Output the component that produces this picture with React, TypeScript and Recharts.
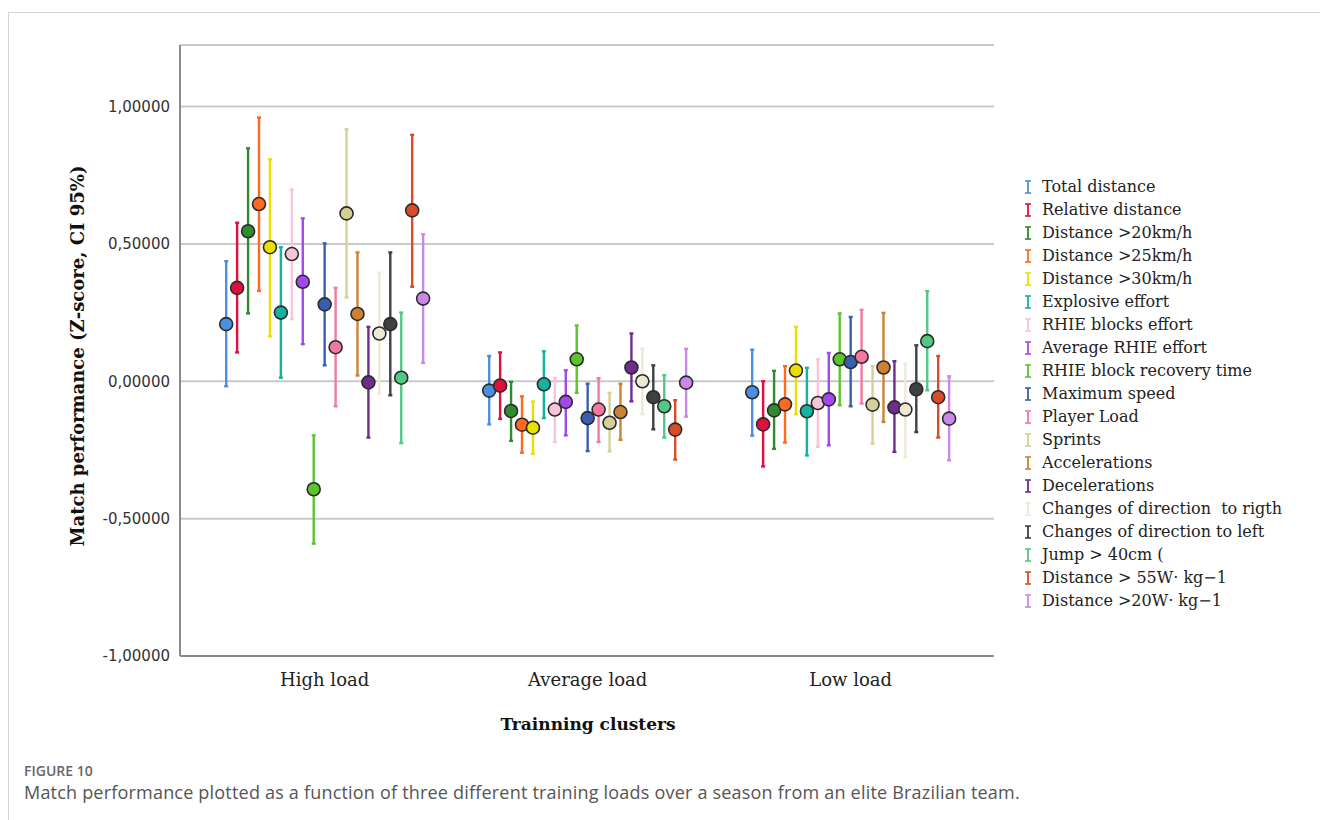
import { ScatterChart, Scatter, ErrorBar, XAxis, YAxis, CartesianGrid } from 'recharts'

const categories = ['High load', 'Average load', 'Low load']

const seriesNames = [
  'Total distance',
  'Relative distance',
  'Distance >20km/h',
  'Distance >25km/h',
  'Distance >30km/h',
  'Explosive effort',
  'RHIE blocks effort',
  'Average RHIE effort',
  'RHIE block recovery time',
  'Maximum speed',
  'Player Load',
  'Sprints',
  'Accelerations',
  'Decelerations',
  'Changes of direction  to rigth',
  'Changes of direction to left',
  'Jump > 40cm (',
  'Distance > 55W· kg−1',
  'Distance >20W· kg−1',
]

const seriesColors = [
  '#4a8fe0', '#e0103c', '#2e8b2e', '#ff6a1e', '#ece000', '#12b3a0', '#f9c4da',
  '#a347f0', '#5cc52c', '#3a5fb0', '#f27aa2', '#d6d096', '#cc8234', '#6e2c8e',
  '#efe9d4', '#404040', '#52c884', '#d94c2a', '#cc88e8',
]

// [High, Average, Low]
const meanValues = [
  [0.208, -0.034, -0.04],
  [0.34, -0.016, -0.157],
  [0.546, -0.108, -0.106],
  [0.645, -0.158, -0.084],
  [0.488, -0.169, 0.039],
  [0.25, -0.011, -0.109],
  [0.463, -0.103, -0.079],
  [0.362, -0.075, -0.066],
  [-0.393, 0.08, 0.08],
  [0.28, -0.134, 0.07],
  [0.124, -0.103, 0.089],
  [0.611, -0.151, -0.085],
  [0.245, -0.112, 0.05],
  [-0.004, 0.05, -0.095],
  [0.174, 0.0, -0.103],
  [0.208, -0.058, -0.029],
  [0.013, -0.091, 0.146],
  [0.622, -0.176, -0.058],
  [0.301, -0.005, -0.136],
]

const lowerValues = [
  [-0.018, -0.157, -0.198],
  [0.105, -0.137, -0.31],
  [0.247, -0.217, -0.246],
  [0.329, -0.26, -0.223],
  [0.164, -0.264, -0.12],
  [0.013, -0.134, -0.27],
  [0.226, -0.221, -0.239],
  [0.135, -0.197, -0.233],
  [-0.591, -0.042, -0.087],
  [0.058, -0.254, -0.091],
  [-0.091, -0.221, -0.081],
  [0.305, -0.255, -0.227],
  [0.021, -0.213, -0.148],
  [-0.205, -0.073, -0.257],
  [-0.045, -0.12, -0.276],
  [-0.051, -0.175, -0.185],
  [-0.225, -0.205, -0.033],
  [0.344, -0.285, -0.205],
  [0.067, -0.129, -0.288],
]

const upperValues = [
  [0.437, 0.092, 0.115],
  [0.577, 0.105, 0.0],
  [0.848, -0.002, 0.038],
  [0.96, -0.055, 0.055],
  [0.808, -0.074, 0.198],
  [0.488, 0.109, 0.049],
  [0.698, 0.012, 0.08],
  [0.593, 0.04, 0.103],
  [-0.197, 0.203, 0.247],
  [0.502, -0.009, 0.234],
  [0.34, 0.011, 0.26],
  [0.917, -0.042, 0.055],
  [0.469, -0.009, 0.249],
  [0.198, 0.174, 0.073],
  [0.395, 0.119, 0.064],
  [0.469, 0.058, 0.131],
  [0.25, 0.022, 0.328],
  [0.897, -0.069, 0.092],
  [0.535, 0.118, 0.018],
]

const yTicks = [-1, -0.5, 0, 0.5, 1]

const STEP = 0.0416
const MID = (seriesNames.length - 1) / 2

const serif = '"DejaVu Serif", serif'

function buildSeries(i: number) {
  return categories.map((_, g) => {
    const m = meanValues[i][g]
    return {
      x: g + (i - MID) * STEP,
      y: m,
      err: [m - lowerValues[i][g], upperValues[i][g] - m],
    }
  })
}

function LegendIcon({ color }: { color: string }) {
  return (
    <svg width={8} height={16} style={{ marginRight: 10, flex: 'none' }}>
      <line x1={1} y1={2} x2={7} y2={2} stroke={color} strokeWidth={1.6} />
      <line x1={4} y1={2} x2={4} y2={14} stroke={color} strokeWidth={1.8} />
      <line x1={1} y1={14} x2={7} y2={14} stroke={color} strokeWidth={1.6} />
    </svg>
  )
}

export default function App() {
  return (
    <div style={{ position: 'absolute', left: 0, top: 0, width: 1320, height: 820, background: '#fff', overflow: 'hidden' }}>
      <div style={{ position: 'absolute', left: 8, top: 12, width: 1400, height: 900, border: '1px solid #d4d4d4' }} />

      <div style={{ position: 'absolute', left: 0, top: 0 }}>
        <ScatterChart width={1000} height={760} margin={{ top: 45, right: 6, bottom: 64, left: 0 }}>
          <CartesianGrid vertical={false} stroke="#c9c9c9" strokeWidth={2} />
          <XAxis
            type="number"
            dataKey="x"
            domain={[-0.55, 2.545]}
            ticks={[0, 1, 2]}
            tickFormatter={(v: number) => categories[Math.round(v)]}
            tickLine={false}
            tickMargin={11}
            height={40}
            stroke="#8a8a8a"
            strokeWidth={2}
            tick={{ fill: '#222', fontSize: 18, fontFamily: serif }}
            allowDataOverflow
          />
          <YAxis
            type="number"
            dataKey="y"
            domain={[-1, 1.224]}
            ticks={yTicks}
            tickFormatter={(v: number) => v.toFixed(5).replace('.', ',')}
            tickLine={false}
            tickMargin={4}
            width={180}
            stroke="#8a8a8a"
            strokeWidth={2}
            tick={{ fill: '#333', fontSize: 15, fontFamily: '"DejaVu Sans", sans-serif' }}
            allowDataOverflow
          />
          {seriesNames.map((name, i) => (
            <Scatter
              key={name}
              name={name}
              data={buildSeries(i)}
              fill={seriesColors[i]}
              isAnimationActive={false}
              shape={(p: any) => (
                <circle cx={p.cx} cy={p.cy} r={6.5} fill={seriesColors[i]} stroke="#2b2b2b" strokeWidth={1.6} />
              )}
            >
              <ErrorBar dataKey="err" direction="y" width={2} stroke={seriesColors[i]} strokeWidth={2.4} isAnimationActive={false} />
            </Scatter>
          ))}
        </ScatterChart>
      </div>

      <div
        style={{
          position: 'absolute', left: 77, top: 356, transform: 'translate(-50%, -50%) rotate(-90deg)',
          whiteSpace: 'nowrap', fontFamily: serif, fontWeight: 'bold', fontSize: 18, color: '#111',
        }}
      >
        Match performance (Z-score, CI 95%)
      </div>

      <div
        style={{
          position: 'absolute', left: 588, top: 724, transform: 'translate(-50%, -50%)',
          whiteSpace: 'nowrap', fontFamily: serif, fontWeight: 'bold', fontSize: 17, color: '#111',
        }}
      >
        Trainning clusters
      </div>

      <div style={{ position: 'absolute', left: 1024, top: 175 }}>
        {seriesNames.map((name, i) => (
          <div key={name} style={{ display: 'flex', alignItems: 'center', height: 23, fontFamily: serif, fontSize: 16, color: '#222', whiteSpace: 'pre' }}>
            <LegendIcon color={seriesColors[i]} />
            {name}
          </div>
        ))}
      </div>

      <div style={{ position: 'absolute', left: 24, top: 761, fontFamily: '"Open Sans", sans-serif', fontWeight: 600, fontSize: 14, color: '#666' }}>
        FIGURE 10
      </div>
      <div style={{ position: 'absolute', left: 24, top: 780, fontFamily: '"Open Sans", sans-serif', fontSize: 18, letterSpacing: 0.2, color: '#555', whiteSpace: 'nowrap' }}>
        Match performance plotted as a function of three different training loads over a season from an elite Brazilian team.
      </div>
    </div>
  )
}
